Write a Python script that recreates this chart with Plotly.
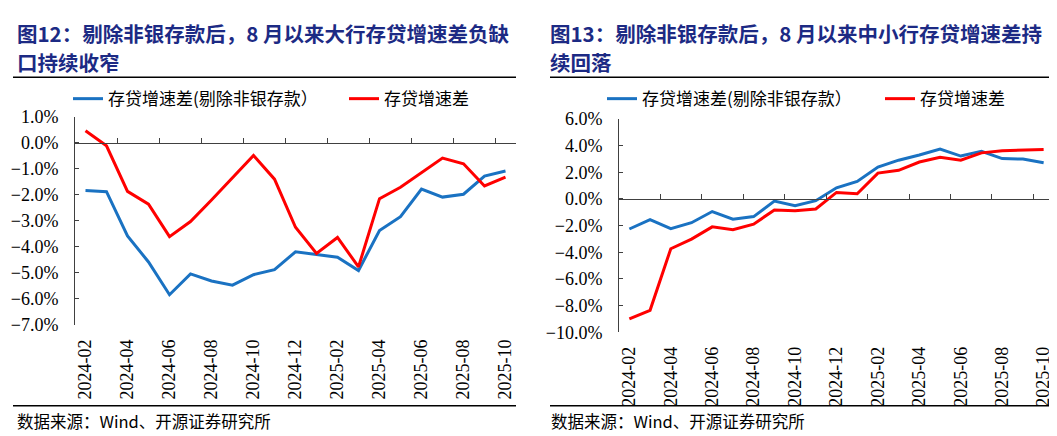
import plotly.graph_objects as go

W, H = 1057, 436

months = ["2024-02", "2024-03", "2024-04", "2024-05", "2024-06", "2024-07", "2024-08",
          "2024-09", "2024-10", "2024-11", "2024-12", "2025-01", "2025-02", "2025-03",
          "2025-04", "2025-05", "2025-06", "2025-07", "2025-08", "2025-09", "2025-10"]
tick_months = months[::2]

# 图12 大行
big_ex_nonbank = [-1.84, -1.88, -3.58, -4.58, -5.84, -5.04, -5.31, -5.47, -5.07, -4.88, -4.19,
                  -4.30, -4.40, -4.91, -3.37, -2.84, -1.78, -2.09, -1.98, -1.28, -1.09]
big_total = [0.46, -0.12, -1.87, -2.36, -3.61, -3.03, -2.20, -1.35, -0.49, -1.40, -3.25,
             -4.25, -3.64, -4.77, -2.15, -1.71, -1.14, -0.59, -0.81, -1.66, -1.32]

# 图13 中小行
small_ex_nonbank = [-2.26, -1.55, -2.24, -1.79, -0.95, -1.52, -1.33, -0.17, -0.52, -0.14, 0.83,
                    1.31, 2.38, 2.90, 3.29, 3.74, 3.21, 3.57, 3.02, 2.98, 2.71]
small_total = [-9.00, -8.36, -3.74, -3.02, -2.10, -2.31, -1.90, -0.83, -0.90, -0.76, 0.48,
               0.38, 1.93, 2.14, 2.76, 3.12, 2.90, 3.45, 3.60, 3.64, 3.71]

name_ex = "存贷增速差(剔除非银存款）"
name_total = "存贷增速差"
title_left = ["图12：剔除非银存款后，8 月以来大行存贷增速差负缺", "口持续收窄"]
title_right = ["图13：剔除非银存款后，8 月以来中小行存贷增速差持", "续回落"]
source = "数据来源：Wind、开源证券研究所"

BLUE = "#1a72c2"
RED = "#ff0000"
NAVY = "#1c2a84"
AX = "#404040"
SERIF = "Liberation Serif, Times New Roman, serif"
CJK = "Noto Sans CJK SC"


def px_x(p):
    return p / W


def px_y(p):
    return 1 - p / H


# plot areas in pixels: (left, right, top, bottom)
left_box = (67, 508, 103.4, 321.7)
right_box = (611, 1046, 105.7, 329.3)
left_range = [-7, 1]
right_range = [-10, 6]

fig = go.Figure()

series = [
    (big_ex_nonbank, name_ex, BLUE, "x", "y", "legend"),
    (big_total, name_total, RED, "x", "y", "legend2"),
    (small_ex_nonbank, name_ex, BLUE, "x2", "y2", "legend3"),
    (small_total, name_total, RED, "x2", "y2", "legend4"),
]
for vals, nm, col, xa, ya, lg in series:
    fig.add_trace(go.Scatter(x=months, y=vals, name=nm, mode="lines",
                             line=dict(color=col, width=3), xaxis=xa, yaxis=ya, legend=lg))


def zero_pos(box, rng):
    y0, y1 = px_y(box[3]), px_y(box[2])
    return y0 + (0 - rng[0]) / (rng[1] - rng[0]) * (y1 - y0)


def cat_axis(box):
    return dict(domain=[px_x(box[0]), px_x(box[1])], type="category", range=[-0.5, len(months) - 0.5],
                tickmode="array", tickvals=tick_months, ticktext=tick_months, tickangle=-90,
                showline=False, ticks="", showgrid=False, zeroline=False, ticklabelstandoff=10,
                tickfont=dict(family=SERIF, size=18, color="#000000"))


def zero_axis(box, rng, over):
    return dict(domain=[px_x(box[0]), px_x(box[1])], overlaying=over, anchor="free",
                position=zero_pos(box, rng), range=[-0.5, len(months) - 0.5],
                tickmode="array", tickvals=[i + 1.5 for i in range(0, len(months) - 1, 2)],
                showticklabels=False, ticks="inside", ticklen=5, tickcolor=AX,
                showline=True, linecolor=AX, linewidth=1, showgrid=False, zeroline=False)


def val_axis(box, rng, dtick, anchor):
    return dict(domain=[px_y(box[3]), px_y(box[2])], range=rng, dtick=dtick, anchor=anchor,
                tickformat=".1f", ticksuffix="%", showline=True, linecolor=AX, linewidth=1,
                ticks="inside", ticklen=4, tickcolor=AX, showgrid=False, zeroline=False,
                ticklabelstandoff=12,
                tickfont=dict(family=SERIF, size=18, color="#000000"))


def legend_at(x0):
    return dict(orientation="h", x=px_x(x0), y=px_y(85), xanchor="left", yanchor="middle",
                font=dict(family=CJK, size=17, color="#000000"), bgcolor="rgba(0,0,0,0)")


fig.update_layout(
    width=W, height=H, margin=dict(l=0, r=0, t=0, b=0),
    paper_bgcolor="white", plot_bgcolor="white",
    xaxis=cat_axis(left_box),
    xaxis2=cat_axis(right_box) | dict(anchor="y2"),
    xaxis3=zero_axis(left_box, left_range, "x"),
    xaxis4=zero_axis(right_box, right_range, "x2"),
    yaxis=val_axis(left_box, left_range, 1, "x"),
    yaxis2=val_axis(right_box, right_range, 2, "x2"),
    legend=legend_at(60),
    legend2=legend_at(336),
    legend3=legend_at(594),
    legend4=legend_at(872),
    showlegend=True,
)

# the empty overlay axes need a trace to show up
fig.add_trace(go.Scatter(x=[0], y=[0], xaxis="x3", yaxis="y", mode="markers",
                         marker=dict(opacity=0), showlegend=False, hoverinfo="skip"))
fig.add_trace(go.Scatter(x=[0], y=[0], xaxis="x4", yaxis="y2", mode="markers",
                         marker=dict(opacity=0), showlegend=False, hoverinfo="skip"))

# titles
for (lines, x0) in [(title_left, 7), (title_right, 540)]:
    for text, yc in zip(lines, [16, 46]):
        fig.add_annotation(text="<b>" + text + "</b>", x=px_x(x0), y=px_y(yc), xref="paper", yref="paper",
                           xanchor="left", yanchor="middle", showarrow=False,
                           font=dict(family=CJK, size=20.5, color=NAVY))

# source notes
for x0 in [7, 541]:
    fig.add_annotation(text=source, x=px_x(x0), y=px_y(422), xref="paper", yref="paper",
                       xanchor="left", yanchor="middle", showarrow=False,
                       font=dict(family=CJK, size=16.5, color="#000000"))

# frame rules above and below each panel
for (a, b) in [(5, 508), (542, 1048)]:
    for yy in [62, 406.5]:
        fig.add_shape(type="line", xref="paper", yref="paper", x0=px_x(a), x1=px_x(b),
                      y0=px_y(yy), y1=px_y(yy), line=dict(color="#000000", width=1.5))

fig.write_html("out.html")
